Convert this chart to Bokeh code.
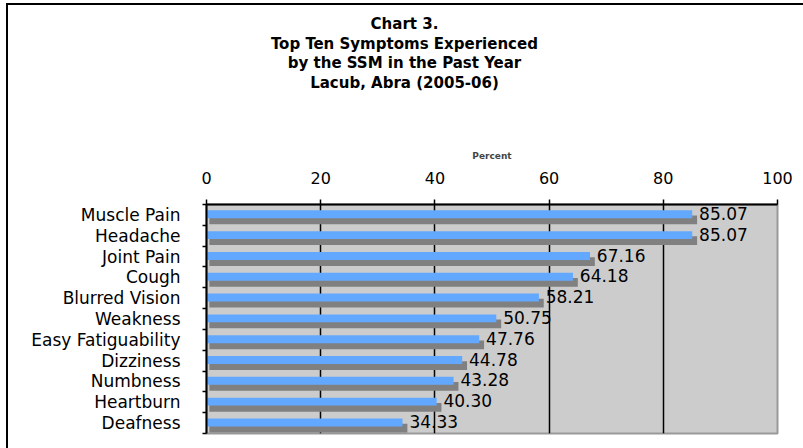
from bokeh.plotting import figure
from bokeh.layouts import column
from bokeh.models import Range1d, FixedTicker, ColumnDataSource
from bokeh.transform import dodge
from bokeh.embed import file_html
from bokeh.resources import INLINE
from bokeh.core.properties import value

# ---- data ----
symptoms = ["Muscle Pain", "Headache", "Joint Pain", "Cough", "Blurred Vision",
            "Weakness", "Easy Fatiguability", "Dizziness", "Numbness",
            "Heartburn", "Deafness"]
percent = [85.07, 85.07, 67.16, 64.18, 58.21, 50.75, 47.76, 44.78, 43.28, 40.30, 34.33]
x_ticks = [0, 20, 40, 60, 80, 100]
title_lines = ["Chart 3.", "Top Ten Symptoms Experienced",
               "by the SSM in the Past Year", "Lacub, Abra (2005-06)"]
axis_title = "Percent"

n = len(symptoms)
ypos = [n - 1 - i for i in range(n)]
src = ColumnDataSource(dict(y=ypos, v=percent, lab=[f"{v:.2f}" for v in percent]))

FONT = "DejaVu Sans"
W = 795
HEAD_H = 100
MAIN_H = 343
FL, FR = 198, 26   # frame borders (left / right) shared by both rows

# ---- title header (canvas pixel coordinates, y downwards) ----
head = figure(width=W, height=HEAD_H, output_backend="svg", toolbar_location=None,
              x_range=Range1d(FL, W - FR), y_range=Range1d(HEAD_H, 0))
head.axis.visible = False
head.grid.visible = False
head.outline_line_color = None
head.min_border_left = FL
head.min_border_right = FR
head.min_border_top = 0
head.min_border_bottom = 0
head.background_fill_color = "white"
head.border_fill_color = "white"
tsrc = ColumnDataSource(dict(t=title_lines, x=[396] * len(title_lines), y=[17, 37, 56, 76]))
head.text(x="x", y="y", text="t", source=tsrc, text_align="center",
          text_baseline="middle", text_font=value("DejaVu Sans Condensed"),
          text_font_size="16.7px", text_font_style="bold", text_color="black")

# ---- main chart ----
p = figure(width=W, height=MAIN_H, output_backend="svg", toolbar_location=None,
           x_range=Range1d(0, 100), y_range=Range1d(-0.5, n - 0.5),
           x_axis_location="above")
p.min_border_left = FL
p.min_border_right = FR
p.min_border_bottom = 15
p.min_border_top = 99
p.background_fill_color = "#CCCCCC"
p.border_fill_color = "white"
p.outline_line_color = "#999999"
p.outline_line_width = 2

# x axis (top)
xa = p.xaxis[0]
xa.ticker = FixedTicker(ticks=x_ticks)
xa.major_tick_out = 5
xa.major_tick_in = 0
xa.minor_tick_out = 0
xa.minor_tick_in = 0
xa.axis_line_width = 2
xa.major_tick_line_width = 1.5
xa.major_label_text_font = FONT
xa.major_label_text_font_size = "16px"
xa.major_label_text_color = "black"
xa.major_label_standoff = 16
xa.axis_label = axis_title
xa.axis_label_text_font = FONT
xa.axis_label_text_font_size = "9px"
xa.axis_label_text_font_style = "bold"
xa.axis_label_standoff = 8

# y axis (left)
ya = p.yaxis[0]
ya.ticker = FixedTicker(ticks=ypos, minor_ticks=[i - 0.5 for i in range(n + 1)])
ya.major_label_overrides = {y: s for y, s in zip(ypos, symptoms)}
ya.major_tick_out = 0
ya.major_tick_in = 0
ya.minor_tick_out = 4
ya.minor_tick_in = 0
ya.minor_tick_line_color = "black"
ya.minor_tick_line_width = 1.5
ya.axis_line_width = 2
ya.major_label_text_font = FONT
ya.major_label_text_font_size = "17px"
ya.major_label_text_color = "black"
ya.major_label_standoff = 22

# grid
p.xgrid.ticker = FixedTicker(ticks=x_ticks)
p.xgrid.grid_line_color = "black"
p.xgrid.grid_line_width = 1.5
p.ygrid.grid_line_color = None

# bars: grey shadow then blue bar
p.hbar(y=dodge("y", -0.24), left=0.5, right=dodge("v", 0.85), height=0.42,
       source=src, fill_color="#808080", line_color=None)
p.hbar(y=dodge("y", 0.03), left=0, right="v", height=0.38,
       source=src, fill_color="#62A8FF", line_color=None)

lbl = p.text(x=dodge("v", 1.2), y=dodge("y", 0.07), text="lab", source=src,
             text_font=value(FONT), text_font_size="17px", text_color="black",
             text_baseline="middle", text_align="left")
lbl.level = "image"

layout = column(head, p, spacing=0)
layout.styles = {"border-left": "2px solid black", "border-top": "2px solid black",
                 "margin-left": "6px", "margin-top": "3px"}

open("out.html", "w").write(file_html(layout, INLINE))
